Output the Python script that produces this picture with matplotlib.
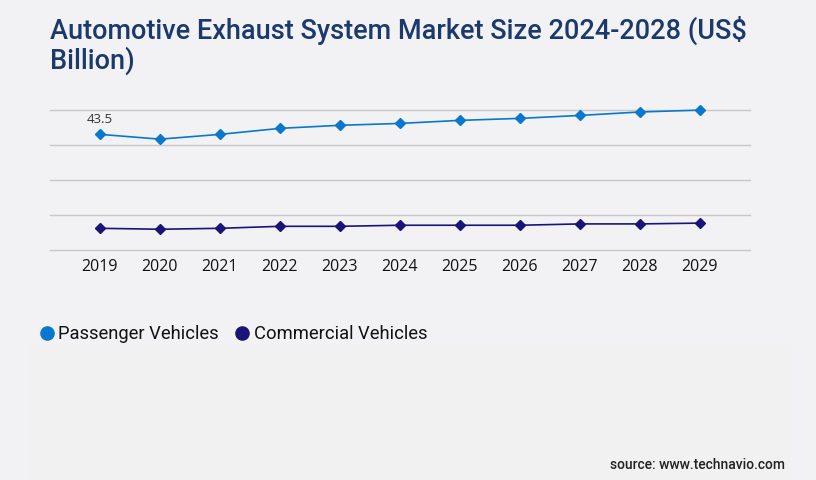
import numpy as np
import matplotlib
matplotlib.use("Agg")
import matplotlib.pyplot as plt
from matplotlib.patches import Rectangle
from matplotlib.lines import Line2D

years = ["2019", "2020", "2021", "2022", "2023", "2024", "2025", "2026", "2027", "2028", "2029"]
passenger = [43.5, 41.7, 43.5, 45.75, 46.9, 47.6, 48.75, 49.5, 50.6, 51.9, 52.6]
commercial = [8.25, 7.9, 8.25, 9.0, 9.0, 9.4, 9.4, 9.4, 9.9, 9.9, 10.2]
series_names = ["Passenger Vehicles", "Commercial Vehicles"]
title = "Automotive Exhaust System Market Size 2024-2028 (US$\nBillion)"
source = "source: www.technavio.com"

BG = "#f2f2f5"
PANEL = "#f1f1f2"
C_PASS = "#0a77cf"
C_COMM = "#1a1478"
TITLE_C = "#1b3a6b"

fig = plt.figure(figsize=(8.16, 4.8), dpi=100, facecolor=BG)
fig.patches.append(Rectangle((30 / 816, 0), (791 - 30) / 816, (480 - 345) / 480,
                             transform=fig.transFigure, facecolor=PANEL,
                             edgecolor="none", zorder=0))

ax = fig.add_axes([50 / 816, 1 - 250.3 / 480, 700 / 816, 140.3 / 480])
ax.set_facecolor("none")
x = np.arange(len(years))
ymax = 52.64
ax.set_ylim(0, ymax)
ax.set_xlim(-50 / 60, len(years) - 1 + 50 / 60)
ax.set_yticks(np.linspace(0, ymax, 5))
ax.yaxis.grid(True, color="#c8c8c8", linewidth=1.0)
for gl in ax.get_ygridlines():
    gl.set_clip_on(False)
ax.set_axisbelow(True)
ax.tick_params(axis="y", left=False, labelleft=False)
ax.tick_params(axis="x", length=0, pad=6.5, labelsize=11.5, labelcolor="#111111")
ax.set_xticks(x)
ax.set_xticklabels(years, fontfamily="Open Sans")
for s in ax.spines.values():
    s.set_visible(False)

ax.plot(x, passenger, color=C_PASS, lw=1.2, marker="D", ms=5, clip_on=False, zorder=3)
ax.plot(x, commercial, color=C_COMM, lw=1.2, marker="D", ms=5, clip_on=False, zorder=3)
ax.annotate(f"{passenger[0]:.1f}", (x[0], passenger[0]), xytext=(0, 6),
            textcoords="offset points", ha="center", va="bottom",
            fontsize=9.5, color="#333333", fontfamily="Open Sans")

fig.text(50 / 816, 1 - 68.3 / 480, title, fontsize=19.5, fontfamily="Roboto",
         fontweight="medium", color=TITLE_C, va="baseline", ha="left",
         linespacing=1.07)

handles = [Line2D([], [], linestyle="none", marker="o", ms=9.5, color=C_PASS),
           Line2D([], [], linestyle="none", marker="o", ms=9.5, color=C_COMM)]
fig.legend(handles, series_names, loc="center left",
           bbox_to_anchor=(41 / 816, 1 - 334 / 480), ncol=2, frameon=False,
           handlelength=0.6, handletextpad=0.35, columnspacing=0.95,
           prop={"family": "Roboto", "size": 13.2}, labelcolor="#111111",
           borderaxespad=0, borderpad=0)

fig.text(785 / 816, 1 - 465 / 480, source, fontsize=10, fontfamily="Roboto",
         fontweight="medium", color="#222222", ha="right", va="center")

fig.savefig("out.png", dpi=100, facecolor=BG)
